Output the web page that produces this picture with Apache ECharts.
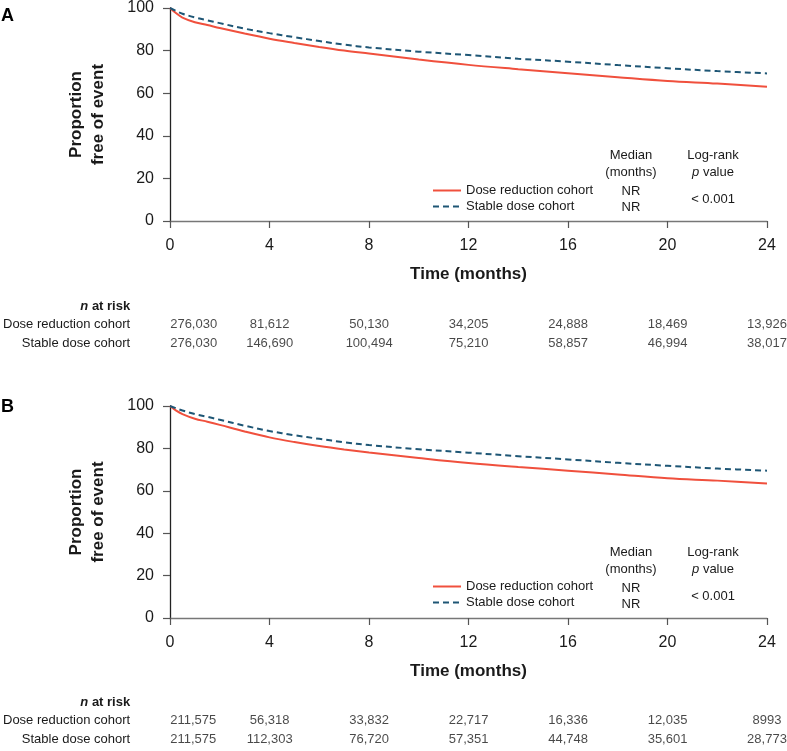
<!DOCTYPE html>
<html>
<head>
<meta charset="utf-8">
<script src="https://cdn.jsdelivr.net/npm/echarts@6/dist/echarts.min.js"></script>
<style>
html,body{margin:0;padding:0;background:#fff;}
#c{width:787px;height:751px;}
</style>
</head>
<body>
<div id="c"></div>
<script>
// ---- data ----
const months = [0, 0.25, 0.5, 1, 1.5, 2, 3, 4, 5, 6, 7, 8, 10, 12, 14, 16, 18, 20, 22, 24];
const doseA   = [100, 97.5, 95.5, 93.3, 92.0, 90.6, 88.0, 85.6, 83.6, 81.7, 80.0, 78.6, 75.8, 73.3, 71.3, 69.4, 67.5, 65.7, 64.5, 63.0];
const stableA = [100, 98.6, 97.3, 95.6, 94.2, 92.9, 90.3, 88.2, 86.3, 84.5, 82.8, 81.5, 79.5, 77.9, 76.2, 74.8, 73.2, 71.7, 70.4, 69.3];
const doseB   = [100, 97.8, 96.2, 94.0, 92.6, 91.1, 88.0, 85.2, 83.0, 81.1, 79.5, 78.1, 75.5, 73.1, 71.2, 69.5, 67.7, 65.9, 64.8, 63.4];
const stableB = [100, 98.9, 97.9, 96.2, 94.9, 93.5, 90.7, 88.2, 86.2, 84.5, 82.9, 81.6, 79.6, 78.0, 76.3, 74.8, 73.2, 71.8, 70.5, 69.5];

const riskMonths = [0, 4, 8, 12, 16, 20, 24];
const riskDoseA   = ['276,030', '81,612', '50,130', '34,205', '24,888', '18,469', '13,926'];
const riskStableA = ['276,030', '146,690', '100,494', '75,210', '58,857', '46,994', '38,017'];
const riskDoseB   = ['211,575', '56,318', '33,832', '22,717', '16,336', '12,035', '8993'];
const riskStableB = ['211,575', '112,303', '76,720', '57,351', '44,748', '35,601', '28,773'];

const nameDose = 'Dose reduction cohort';
const nameStable = 'Stable dose cohort';
const riskRows = ['n at risk', nameDose, nameStable];

// ---- styles ----
const FONT = 'Arial, "Liberation Sans", Helvetica, sans-serif';
const RED = '#f0503d';
const BLUE = '#1e5675';
const TXT = '#1a1a1a';

const chart = echarts.init(document.getElementById('c'), null, {renderer: 'canvas'});

function pairs(xs, ys) { return xs.map((x, i) => [x, ys[i]]); }

function kmX(gridIndex) {
  return {
    type: 'value', gridIndex, min: 0, max: 24, interval: 4,
    name: 'Time (months)', nameLocation: 'middle', nameGap: 45,
    nameTextStyle: {fontFamily: FONT, fontSize: 17, fontWeight: 'bold', color: TXT},
    axisLine: {show: true, lineStyle: {color: '#777', width: 1.3}},
    axisTick: {show: true, length: 7, lineStyle: {color: '#555', width: 1.2}},
    axisLabel: {fontFamily: FONT, fontSize: 16, color: TXT, margin: 17},
    splitLine: {show: false}
  };
}
function kmY(gridIndex) {
  return {
    type: 'value', gridIndex, min: 0, max: 100, interval: 20,
    name: 'Proportion\nfree of event', nameLocation: 'middle', nameGap: 61, nameRotate: 90,
    nameTextStyle: {fontFamily: FONT, fontSize: 17, fontWeight: 'bold', color: TXT, lineHeight: 22},
    axisLine: {show: true, lineStyle: {color: '#222', width: 1.3}},
    axisTick: {show: true, length: 7, lineStyle: {color: '#555', width: 1.2}},
    axisLabel: {fontFamily: FONT, fontSize: 16, color: TXT, margin: 16},
    splitLine: {show: false}
  };
}
function riskX(gridIndex) {
  return {type: 'value', gridIndex, min: 0, max: 24, show: false};
}
function riskY(gridIndex) {
  return {
    type: 'category', gridIndex, data: riskRows, inverse: true,
    axisLine: {show: false}, axisTick: {show: false}, splitLine: {show: false},
    axisLabel: {
      fontFamily: FONT, fontSize: 13, color: TXT, margin: 40,
      formatter: v => v === 'n at risk' ? '{i|n}{b| at risk}' : v,
      rich: {
        i: {fontFamily: FONT, fontSize: 13, fontStyle: 'italic', fontWeight: 'bold', color: TXT},
        b: {fontFamily: FONT, fontSize: 13, fontWeight: 'bold', color: TXT}
      }
    }
  };
}
function kmLine(name, data, color, dashed, idx) {
  return {
    type: 'line', name, data, xAxisIndex: idx, yAxisIndex: idx,
    showSymbol: false, symbol: 'none', smooth: 0.35, silent: true,
    lineStyle: {color, width: 2, type: dashed ? [6, 4] : 'solid'},
    itemStyle: {color},
    z: dashed ? 3 : 2
  };
}
function riskSeries(rowName, values, idx) {
  return {
    type: 'scatter', name: 'risk-' + rowName + idx, xAxisIndex: idx, yAxisIndex: idx,
    symbolSize: 0, silent: true,
    data: riskMonths.map((m, i) => ({
      value: [m, rowName],
      label: {show: true, formatter: values[i], position: 'inside', align: i === 0 ? 'left' : 'center'}
    })),
    label: {show: true, fontFamily: FONT, fontSize: 13, color: TXT}
  };
}
function legendAt(top) {
  return {
    show: true, data: [nameDose, nameStable], orient: 'vertical', left: 432, top,
    itemWidth: 28, itemHeight: 14, itemGap: 3, selectedMode: false,
    itemStyle: {opacity: 0, borderWidth: 0},
    textStyle: {fontFamily: FONT, fontSize: 13, color: TXT},
    padding: 0
  };
}
function statTexts(dy) {
  const base = {fontFamily: FONT, fontSize: 13, fill: TXT, align: 'center', verticalAlign: 'middle'};
  const t = (x, y, text, extra) => ({type: 'text', x, y: y + dy, style: Object.assign({}, base, {text}, extra || {})});
  return [
    t(631, 155, 'Median'), t(631, 172, '(months)'),
    t(631, 191, 'NR'), t(631, 207, 'NR'),
    t(713, 155, 'Log-rank'),
    t(713, 172, '{i|p} value', {rich: {i: {fontFamily: FONT, fontSize: 13, fontStyle: 'italic', fill: TXT}}}),
    t(713, 199, '< 0.001')
  ];
}

const option = {
  backgroundColor: '#fff',
  animation: false,
  textStyle: {fontFamily: FONT},
  grid: [
    {left: 170, width: 597, top: 8, height: 213},
    {left: 170, width: 597, top: 406, height: 212},
    {left: 170, width: 597, top: 296.75, height: 55.5},
    {left: 170, width: 597, top: 692.75, height: 55.5}
  ],
  xAxis: [kmX(0), kmX(1), riskX(2), riskX(3)],
  yAxis: [kmY(0), kmY(1), riskY(2), riskY(3)],
  legend: [legendAt(184), legendAt(580)],
  series: [
    kmLine(nameDose, pairs(months, doseA), RED, false, 0),
    kmLine(nameStable, pairs(months, stableA), BLUE, true, 0),
    kmLine(nameDose, pairs(months, doseB), RED, false, 1),
    kmLine(nameStable, pairs(months, stableB), BLUE, true, 1),
    riskSeries(nameDose, riskDoseA, 2),
    riskSeries(nameStable, riskStableA, 2),
    riskSeries(nameDose, riskDoseB, 3),
    riskSeries(nameStable, riskStableB, 3)
  ],
  graphic: [
    {type: 'text', x: 1, y: 16, style: {text: 'A', fontFamily: FONT, fontSize: 18, fontWeight: 'bold', fill: '#000', verticalAlign: 'middle'}},
    {type: 'text', x: 1, y: 407, style: {text: 'B', fontFamily: FONT, fontSize: 18, fontWeight: 'bold', fill: '#000', verticalAlign: 'middle'}}
  ].concat(statTexts(0), statTexts(397))
};
chart.setOption(option);
</script>
</body>
</html>
